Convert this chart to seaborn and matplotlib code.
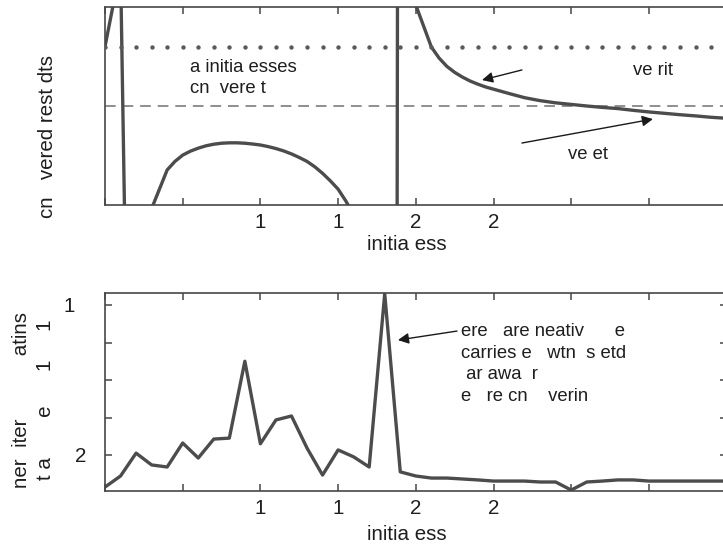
import numpy as np
import pandas as pd
import matplotlib
matplotlib.use("Agg")
import matplotlib.pyplot as plt
import seaborn as sns
from matplotlib.transforms import ScaledTranslation

# ---------------- data ----------------
initial_guess = list(range(41))
# top panel: converged result curve (sampled along the initial guess)
curve_guess = [0, 1, 2, 3, 4, 4.5, 5, 5.5, 6, 6.5, 7, 7.5, 8, 8.5, 9, 9.5,
               10, 10.5, 11, 11.5, 12, 12.5, 13, 13.5, 14, 14.5, 15, 15.5,
               16, 17, 18, 19, 20, 21, 21.5, 22, 22.5, 23, 23.5, 24, 24.5,
               25, 26, 27, 28, 29, 30, 31, 32, 33, 34, 35, 36, 37, 38, 39, 40]
result_curve = [8.0, 12.0, -36.0, -0.18, 1.77, 2.2, 2.52, 2.72, 2.87, 2.99,
                3.07, 3.12, 3.14, 3.14, 3.12, 3.08, 3.03, 2.95, 2.85, 2.73,
                2.58, 2.4, 2.2, 1.93, 1.6, 1.22, 0.8, 0.2, -0.5, -3.0,
                -400.0, 100.0, 10.1, 7.98, 7.42, 7.0, 6.7, 6.46, 6.26, 6.1,
                5.96, 5.85, 5.63, 5.42, 5.27, 5.16, 5.08, 5.0, 4.93, 4.87,
                4.78, 4.7, 4.63, 4.56, 4.5, 4.43, 4.38]
converged_dots = [8.0] * 41
reference_level = 5.0
# bottom panel: inner iterations
inner_iters = [0.29, 0.88, 2.1, 1.47, 1.36, 2.64, 1.84, 2.85, 2.9, 7.0,
               2.6, 3.87, 4.08, 2.37, 0.93, 2.27, 1.9, 1.36, 10.6, 1.1,
               0.88, 0.77, 0.77, 0.72, 0.67, 0.61, 0.61, 0.61, 0.56, 0.56,
               0.13, 0.56, 0.61, 0.67, 0.67, 0.61, 0.61, 0.61, 0.61, 0.61, 0.61]

x_ticks = [0, 5, 10, 15, 20, 25, 30, 35, 40]
x_ticklabels = ["", "", "1", "1", "2", "2", "", "", ""]
y2_ticks = [2, 4, 6, 8, 10]
y2_ticklabels = ["2", "", "", "", "1"]

xlabel_text = "initia ess"
ylabel_top = "cn   vered rest dts"
ylabel_bottom = "ner  iter           atins\nt a       e      1     1"
note_top = "a initia esses\ncn  vere t"
note_right = "ve rit"
note_left = "ve et"
note_bottom = "ere   are neativ      e\ncarries e   wtn  s etd\n ar awa  r\ne   re cn    verin"

# ---------------- style ----------------
sns.set_style("white")
plt.rcParams["font.family"] = ["Liberation Sans", "DejaVu Sans"]
DPI = 100
W, H = 723, 548
LINE = "#4c4c4c"
SPINE = "#474747"
TXT = "#1e1e1e"
LAB_FS = 14.8
NOTE_FS = 13.3

fig = plt.figure(figsize=(W / DPI, H / DPI), dpi=DPI)
fig.patch.set_facecolor("white")
axw = 621.6 / W
axh = 198 / H
ax1 = fig.add_axes([105 / W, 1 - 205 / H, axw, axh])
ax2 = fig.add_axes([105 / W, 1 - 491 / H, axw, axh])

df_curve = pd.DataFrame({"guess": curve_guess, "result": result_curve})
df_dots = pd.DataFrame({"guess": initial_guess, "dots": converged_dots})
df_bot = pd.DataFrame({"guess": initial_guess, "iters": inner_iters})

# ---- top panel ----
sns.lineplot(data=df_curve, x="guess", y="result", ax=ax1, color=LINE,
             linewidth=2.4, sort=False)
sns.scatterplot(data=df_dots, x="guess", y="dots", ax=ax1, color="#5a5a5a",
                s=10, linewidth=0, zorder=3)
ax1.axhline(reference_level, color="#707070", linewidth=1.1,
            dashes=(7, 4.5), zorder=1)
ax1.set_xlim(0, 40)
ax1.set_ylim(0, 10)

ax1.text(5.47, 6.41, note_top, fontsize=NOTE_FS, color=TXT, ha="left",
         va="center", linespacing=1.35)
ax1.text(33.98, 6.77, note_right, fontsize=NOTE_FS, color=TXT, ha="left",
         va="center")
ax1.text(29.8, 2.53, note_left, fontsize=NOTE_FS, color=TXT, ha="left",
         va="center")
arrow_kw = dict(arrowstyle="-|>", color="#1a1a1a", lw=1.0, mutation_scale=16,
                shrinkA=0, shrinkB=0)
ax1.annotate("", xy=(24.26, 6.31), xytext=(26.83, 6.82), arrowprops=arrow_kw)
ax1.annotate("", xy=(35.26, 4.34), xytext=(26.83, 3.13), arrowprops=arrow_kw)

# ---- bottom panel ----
sns.lineplot(data=df_bot, x="guess", y="iters", ax=ax2, color=LINE,
             linewidth=2.4)
ax2.set_xlim(0, 40)
ax2.set_ylim(0.08, 10.64)
ax2.text(22.9, 6.85, note_bottom, fontsize=NOTE_FS, color=TXT, ha="left",
         va="center", linespacing=1.36)
ax2.annotate("", xy=(18.85, 8.13), xytext=(22.65, 8.61), arrowprops=arrow_kw)

# ---- axes formatting ----
for ax in (ax1, ax2):
    for sp in ax.spines.values():
        sp.set_color(SPINE)
        sp.set_linewidth(1.2)
    ax.set_xticks(x_ticks)
    ax.set_xticklabels(x_ticklabels)
    ax.tick_params(axis="x", direction="in", length=5, width=1.1,
                   color=SPINE, top=True, bottom=True, labelsize=LAB_FS,
                   labelcolor=TXT, pad=6)
    ax.set_xlabel(xlabel_text, fontsize=LAB_FS, color=TXT, va="center")
    ax.grid(False)
    ax.set_facecolor("white")

ax1.set_yticks([])
ax1.tick_params(axis="y", left=False, right=False, labelleft=False)
ax2.set_yticks(y2_ticks)
ax2.set_yticklabels(y2_ticklabels)
ax2.tick_params(axis="y", direction="in", length=5, width=1.1, color=SPINE,
                left=True, right=True, labelsize=LAB_FS, labelcolor=TXT,
                pad=13.5)

ax1.set_ylabel(ylabel_top, fontsize=LAB_FS, color=TXT, va="center")
ax2.set_ylabel(ylabel_bottom, fontsize=LAB_FS, color=TXT, va="center",
               linespacing=1.35)

ax1.xaxis.set_label_coords(0.486, -0.202)
ax2.xaxis.set_label_coords(0.486, -0.222)
ax1.yaxis.set_label_coords(-0.092, 0.348)
ax2.yaxis.set_label_coords(-0.115, 0.46)

# shift the "1" label left (its trailing digit is not rendered)
lab = ax2.get_yticklabels()[-1]
lab.set_transform(lab.get_transform() +
                  ScaledTranslation(-11 / DPI, 0, fig.dpi_scale_trans))

fig.savefig("out.png", dpi=DPI, facecolor="white")
